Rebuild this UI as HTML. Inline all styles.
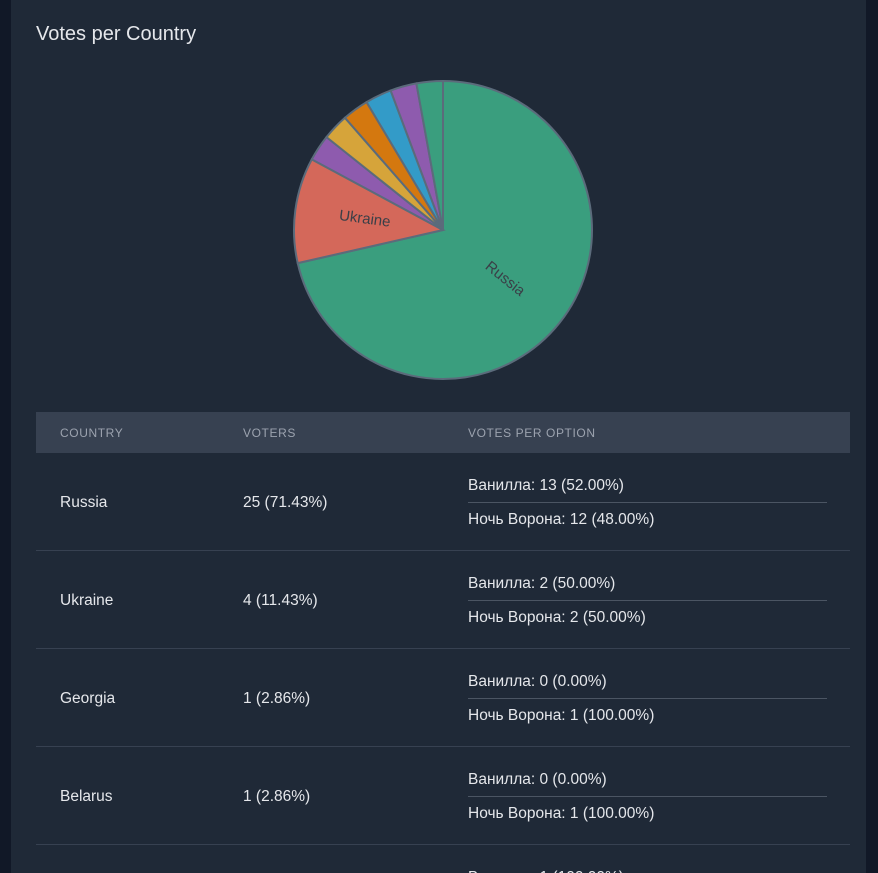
<!DOCTYPE html>
<html><head><meta charset="utf-8">
<style>
html,body{margin:0;padding:0;width:878px;height:873px;overflow:hidden;background:#111827;font-family:"Liberation Sans","Noto Sans CJK SC",sans-serif;}
.card{position:absolute;left:11px;top:0;width:855px;height:873px;background:#1f2937;overflow:hidden;}
h2{position:absolute;left:25px;top:23px;margin:0;font-size:20px;font-weight:normal;color:#e5e7eb;}
svg{position:absolute;left:0;top:0;}
.tw{position:absolute;left:25px;top:412px;width:814px;height:461px;overflow:hidden;}
table{width:814px;border-collapse:collapse;}
th{background:#374151;color:#9ca3af;font-size:12px;font-weight:normal;letter-spacing:0.6px;text-align:left;height:41px;padding:0 0 0 24px;}
td{color:#e5e7eb;font-size:15.5px;height:95px;border-bottom:1px solid #374151;padding:2px 0 0 24px;vertical-align:middle;}
.opt{width:359px;height:33px;line-height:33px;}
.opt:first-child{border-bottom:1px solid #4b5563;}
</style></head><body>
<div class="card">
<h2>Votes per Country</h2>
<svg id="pie" width="855" height="400"></svg>
<div class="tw">
<table>
<thead><tr>
<th style="width:159px">COUNTRY</th>
<th style="width:201px">VOTERS</th>
<th>VOTES PER OPTION</th></tr></thead>
<tbody>
<tr><td>Russia</td><td>25 (71.43%)</td><td><div class="opt">Ванилла: 13 (52.00%)</div><div class="opt">Ночь Ворона: 12 (48.00%)</div></td></tr>
<tr><td>Ukraine</td><td>4 (11.43%)</td><td><div class="opt">Ванилла: 2 (50.00%)</div><div class="opt">Ночь Ворона: 2 (50.00%)</div></td></tr>
<tr><td>Georgia</td><td>1 (2.86%)</td><td><div class="opt">Ванилла: 0 (0.00%)</div><div class="opt">Ночь Ворона: 1 (100.00%)</div></td></tr>
<tr><td>Belarus</td><td>1 (2.86%)</td><td><div class="opt">Ванилла: 0 (0.00%)</div><div class="opt">Ночь Ворона: 1 (100.00%)</div></td></tr>
<tr><td>&nbsp;</td><td>1 (2.86%)</td><td><div class="opt">Ванилла: 1 (100.00%)</div><div class="opt">Ночь Ворона: 0 (0.00%)</div></td></tr>
</tbody></table>
</div>
</div>
<script>
const categories=["Russia","Ukraine","Georgia","Belarus","C5","C6","C7","C8"];
const values=[25,4,1,1,1,1,1,1];
const labels=["Russia","Ukraine","","","","","",""];
const colors=["#3a9e7e","#d4685a","#8e5bae","#d6a43a","#d4780f","#339bc8","#8e5bae","#3a9e7e"];
const svg=document.getElementById('pie');
const cx=432,cy=230,r=149,NS="http://www.w3.org/2000/svg";
const total=values.reduce((a,b)=>a+b,0);
function pt(a,rr){return [cx+rr*Math.sin(a),cy-rr*Math.cos(a)];}
let a0=0;
values.forEach((v,i)=>{
  const a1=a0+v/total*2*Math.PI;
  const p0=pt(a0,r),p1=pt(a1,r);
  const large=(a1-a0)>Math.PI?1:0;
  const p=document.createElementNS(NS,'path');
  p.setAttribute('d',`M${cx},${cy}L${p0[0]},${p0[1]}A${r},${r} 0 ${large} 1 ${p1[0]},${p1[1]}Z`);
  p.setAttribute('fill',colors[i]);p.setAttribute('stroke','#5b6b7b');p.setAttribute('stroke-width','2');
  
  
  svg.appendChild(p);
  if(labels[i]){
    const m=(a0+a1)/2,lp=pt(m,r*0.53);
    let deg=m*180/Math.PI-90; if(deg>90)deg-=180;
    const t=document.createElementNS(NS,'text');
    t.setAttribute('x',lp[0]);t.setAttribute('y',lp[1]);
    t.setAttribute('text-anchor','middle');t.setAttribute('dominant-baseline','middle');
    t.setAttribute('font-size','15');t.setAttribute('fill','#3a3f47');
    t.setAttribute('transform',`rotate(${deg} ${lp[0]} ${lp[1]})`);
    t.textContent=labels[i];
    
    
    svg.appendChild(t);
  }
  a0=a1;
});
</script>
</body></html>
